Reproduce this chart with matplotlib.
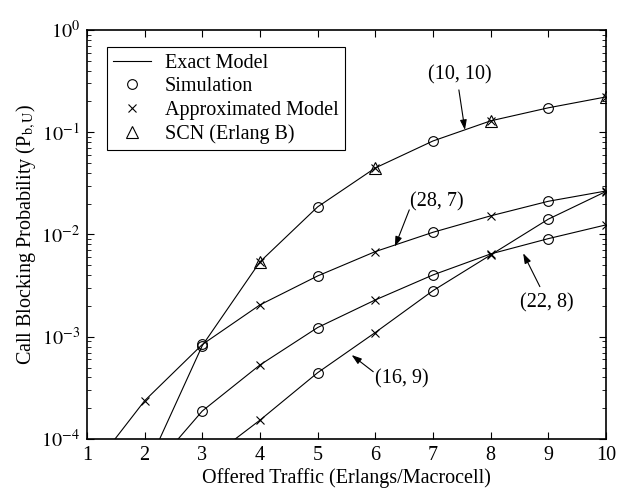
import matplotlib
matplotlib.use("Agg")
import matplotlib.pyplot as plt
from matplotlib.lines import Line2D

plt.rcParams["font.family"] = ["Liberation Serif", "DejaVu Serif"]
plt.rcParams["mathtext.fontset"] = "stix"

# Offered traffic (Erlangs/Macrocell)
traffic = [2, 3, 4, 5, 6, 7, 8, 9, 10]

# (Nmacro, Nmicro) configurations: exact-model values read at integer traffic
# None = below the plotted range
exact_10_10 = [None, 8.2e-4, 5.4e-3, 1.86e-2, 4.47e-2, 8.2e-2, 0.129, 0.173, 0.221]
exact_28_7 = [2.37e-4, 8.4e-4, 2.05e-3, 3.93e-3, 6.8e-3, 1.05e-2, 1.52e-2, 2.11e-2, 2.66e-2]
exact_22_8 = [None, 1.88e-4, 5.3e-4, 1.23e-3, 2.29e-3, 4.02e-3, 6.45e-3, 9.1e-3, 1.24e-2]
exact_16_9 = [None, None, 1.53e-4, 4.45e-4, 1.1e-3, 2.82e-3, 6.3e-3, 1.41e-2, 2.63e-2]

# traffic where each curve leaves the bottom of the plot (P = 1e-4)
start_traffic = {"10_10": 2.26, "28_7": 1.485, "22_8": 2.58, "16_9": 3.57}
y_floor = 1e-4

curves = {
    "10_10": exact_10_10,
    "28_7": exact_28_7,
    "22_8": exact_22_8,
    "16_9": exact_16_9,
}

# which traffic values carry which marker on each curve
sim_pts = {"10_10": [3, 5, 7, 9], "28_7": [3, 5, 7, 9], "22_8": [3, 5, 7, 9], "16_9": [5, 7, 9]}
approx_pts = {"10_10": [4, 6, 8, 10], "28_7": [2, 4, 6, 8, 10], "22_8": [4, 6, 8, 10], "16_9": [4, 6, 8, 10]}
erlang_pts = [4, 6, 8, 10]

labels = ["(10, 10)", "(28, 7)", "(22, 8)", "(16, 9)"]
label_xy = [(7.47, 0.363), (7.06, 0.0209), (8.97, 2.14e-3), (6.46, 3.84e-4)]
arrow_tail = [(7.45, 0.259), (6.59, 0.0174), (8.855, 3.09e-3), (5.965, 4.55e-4)]
arrow_head = [(7.555, 0.105), (6.34, 0.0076), (8.565, 6.55e-3), (5.59, 6.63e-4)]

fig = plt.figure(figsize=(6.17, 4.9), dpi=100)
ax = fig.add_axes([0.141, 0.104, 0.841, 0.835])

for key, vals in curves.items():
    xs = [start_traffic[key]] + [t for t, v in zip(traffic, vals) if v is not None]
    ys = [y_floor] + [v for v in vals if v is not None]
    ax.plot(xs, ys, color="black", lw=0.8)
    lookup = dict(zip(traffic, vals))
    ax.plot(sim_pts[key], [lookup[t] for t in sim_pts[key]], ls="none",
            marker="o", ms=7, mfc="none", mec="black", mew=0.8)
    ax.plot(approx_pts[key], [lookup[t] for t in approx_pts[key]], ls="none",
            marker="x", ms=6, mec="black", mew=0.8)
    if key == "10_10":
        ax.plot(erlang_pts, [lookup[t] for t in erlang_pts], ls="none",
                marker="^", ms=8, mfc="none", mec="black", mew=0.8)

for text, xy, tail, head in zip(labels, label_xy, arrow_tail, arrow_head):
    ax.text(xy[0], xy[1], text, ha="center", va="center", fontsize=14.5)
    ax.annotate("", xy=head, xytext=tail,
                arrowprops=dict(arrowstyle="-|>,head_length=0.6,head_width=0.2",
                                color="black", lw=0.8, shrinkA=0, shrinkB=0))

ax.set_yscale("log")
ax.set_xlim(1, 10)
ax.set_ylim(1e-4, 1)
ax.set_xticks(range(1, 11))
ax.set_yticks([1e-4, 1e-3, 1e-2, 1e-1, 1])
ax.set_yticklabels([r"$10^{-4}$", r"$10^{-3}$", r"$10^{-2}$", r"$10^{-1}$", r"$10^{0}$"])
ax.tick_params(which="both", direction="in", top=True, right=True, labelsize=14.5)
ax.tick_params(which="major", length=5, width=0.8, pad=5)
ax.tick_params(which="minor", length=3, width=0.6)
ax.tick_params(axis="x", which="minor", top=False, bottom=False)
for sp in ax.spines.values():
    sp.set_linewidth(1.2)

ax.set_xlabel("Offered Traffic (Erlangs/Macrocell)", fontsize=14.5, labelpad=2)
ax.set_ylabel(r"Call Blocking Probability (P$_{\mathrm{b,U}}$)", fontsize=14.5, labelpad=2)

handles = [
    Line2D([], [], color="black", lw=0.8),
    Line2D([], [], ls="none", marker="o", ms=7, mfc="none", mec="black", mew=0.8),
    Line2D([], [], ls="none", marker="x", ms=6, mec="black", mew=0.8),
    Line2D([], [], ls="none", marker="^", ms=8, mfc="none", mec="black", mew=0.8),
]
leg = ax.legend(handles, ["Exact Model", "Simulation", "Approximated Model", "SCN (Erlang B)"],
                loc="upper left", bbox_to_anchor=(0.038, 0.957), fontsize=14.5,
                frameon=True, fancybox=False, framealpha=1, edgecolor="black",
                handlelength=1.9, handletextpad=0.7, labelspacing=0.22,
                borderpad=0.3, borderaxespad=0)
leg.get_frame().set_linewidth(0.8)

fig.savefig("out.png", dpi=100)
